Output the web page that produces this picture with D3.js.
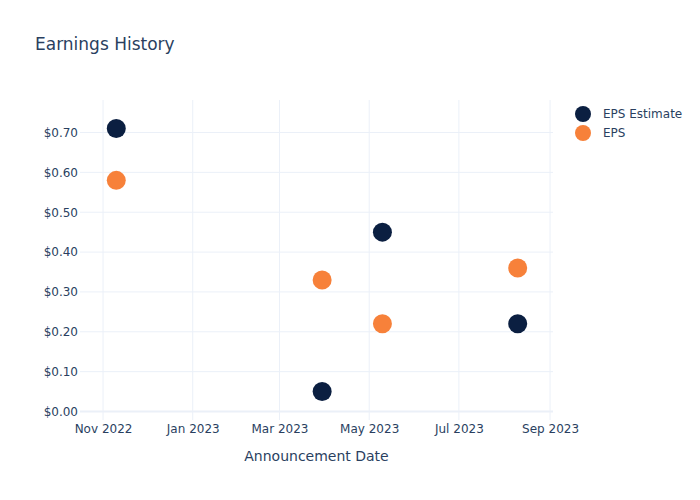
<!DOCTYPE html>
<html>
<head>
<meta charset="utf-8">
<script src="https://cdn.jsdelivr.net/npm/d3@7"></script>
<style>
  html, body { margin: 0; padding: 0; background: #fff; }
  svg { display: block; font-family: "DejaVu Sans", sans-serif; }
</style>
</head>
<body>
<svg id="chart" width="700" height="500"></svg>
<script>
const dates = ["2022-11-10", "2023-03-30", "2023-05-10", "2023-08-10"];
const epsEstimate = [0.71, 0.05, 0.45, 0.22];
const eps = [0.58, 0.33, 0.22, 0.36];
const seriesNames = ["EPS Estimate", "EPS"];
const seriesColors = ["#0b1f41", "#f7813a"];
const yTicks = [0, 0.1, 0.2, 0.3, 0.4, 0.5, 0.6, 0.7];
const xTickDates = ["2022-11-01", "2023-01-01", "2023-03-01", "2023-05-01", "2023-07-01", "2023-09-01"];
const xTickLabels = ["Nov 2022", "Jan 2023", "Mar 2023", "May 2023", "Jul 2023", "Sep 2023"];
const titleText = "Earnings History";
const xAxisTitle = "Announcement Date";

(function () {
const parse = d3.utcParse("%Y-%m-%d");
const svg = d3.select("#chart");
const textColor = "#2a3f5f";
const gridColor = "#ebf0f8";
const font = "'DejaVu Sans', sans-serif";

const pLeft = 80, pRight = 553, pTop = 100, pBottom = 420;

const x = d3.scaleUtc()
  .domain([new Date(Date.UTC(2022, 9, 16, 8)), new Date(Date.UTC(2023, 8, 3))])
  .range([pLeft, pRight]);
const y = d3.scaleLinear()
  .domain([-0.02133, 0.7816])
  .range([pBottom, pTop]);

// grid
const grid = svg.append("g");
grid.selectAll("line.v").data(xTickDates).enter().append("line")
  .attr("x1", d => x(parse(d))).attr("x2", d => x(parse(d)))
  .attr("y1", pTop).attr("y2", pBottom)
  .attr("stroke", gridColor).attr("stroke-width", 1);
grid.selectAll("line.h").data(yTicks.filter(t => t !== 0)).enter().append("line")
  .attr("x1", pLeft).attr("x2", pRight)
  .attr("y1", d => y(d)).attr("y2", d => y(d))
  .attr("stroke", gridColor).attr("stroke-width", 1);
grid.append("line")
  .attr("x1", pLeft).attr("x2", pRight)
  .attr("y1", y(0)).attr("y2", y(0))
  .attr("stroke", gridColor).attr("stroke-width", 2);

// y axis
const yAxis = d3.axisLeft(y).tickValues(yTicks).tickSize(0).tickPadding(0)
  .tickFormat(d => "$" + d3.format(".2f")(d));
const yg = svg.append("g").attr("transform", `translate(${pLeft - 2},0)`).call(yAxis);
yg.select(".domain").remove();
yg.selectAll("text").attr("fill", textColor).style("font-size", "12px")
  .style("font-family", font);

// x axis
const xAxis = d3.axisBottom(x).tickValues(xTickDates.map(parse)).tickSize(0).tickPadding(0)
  .tickFormat((d, i) => xTickLabels[i]);
const xg = svg.append("g").attr("transform", `translate(0,${pBottom + 4})`).call(xAxis);
xg.select(".domain").remove();
xg.selectAll("text").attr("fill", textColor).style("font-size", "12px")
  .style("font-family", font);

// points
const seriesData = [epsEstimate, eps];
seriesData.forEach((vals, si) => {
  svg.append("g").selectAll("circle").data(vals).enter().append("circle")
    .attr("cx", (d, i) => x(parse(dates[i])))
    .attr("cy", d => y(d))
    .attr("r", 9.5)
    .attr("fill", seriesColors[si]);
});

// title
svg.append("text").attr("x", 35).attr("y", 50)
  .attr("fill", textColor).style("font-size", "17px").style("font-family", font).text(titleText);

// x axis title
svg.append("text").attr("x", (pLeft + pRight) / 2).attr("y", 461)
  .attr("text-anchor", "middle").attr("fill", textColor)
  .style("font-size", "14px").style("font-family", font).text(xAxisTitle);

// legend
const lg = svg.append("g");
seriesNames.forEach((name, i) => {
  const yy = 114 + i * 19;
  lg.append("circle").attr("cx", 583).attr("cy", yy).attr("r", 8).attr("fill", seriesColors[i]);
  lg.append("text").attr("x", 603).attr("y", yy + 4)
    .attr("fill", textColor).style("font-size", "12px").style("font-family", font).text(name);
});
})();
</script>
</body>
</html>
